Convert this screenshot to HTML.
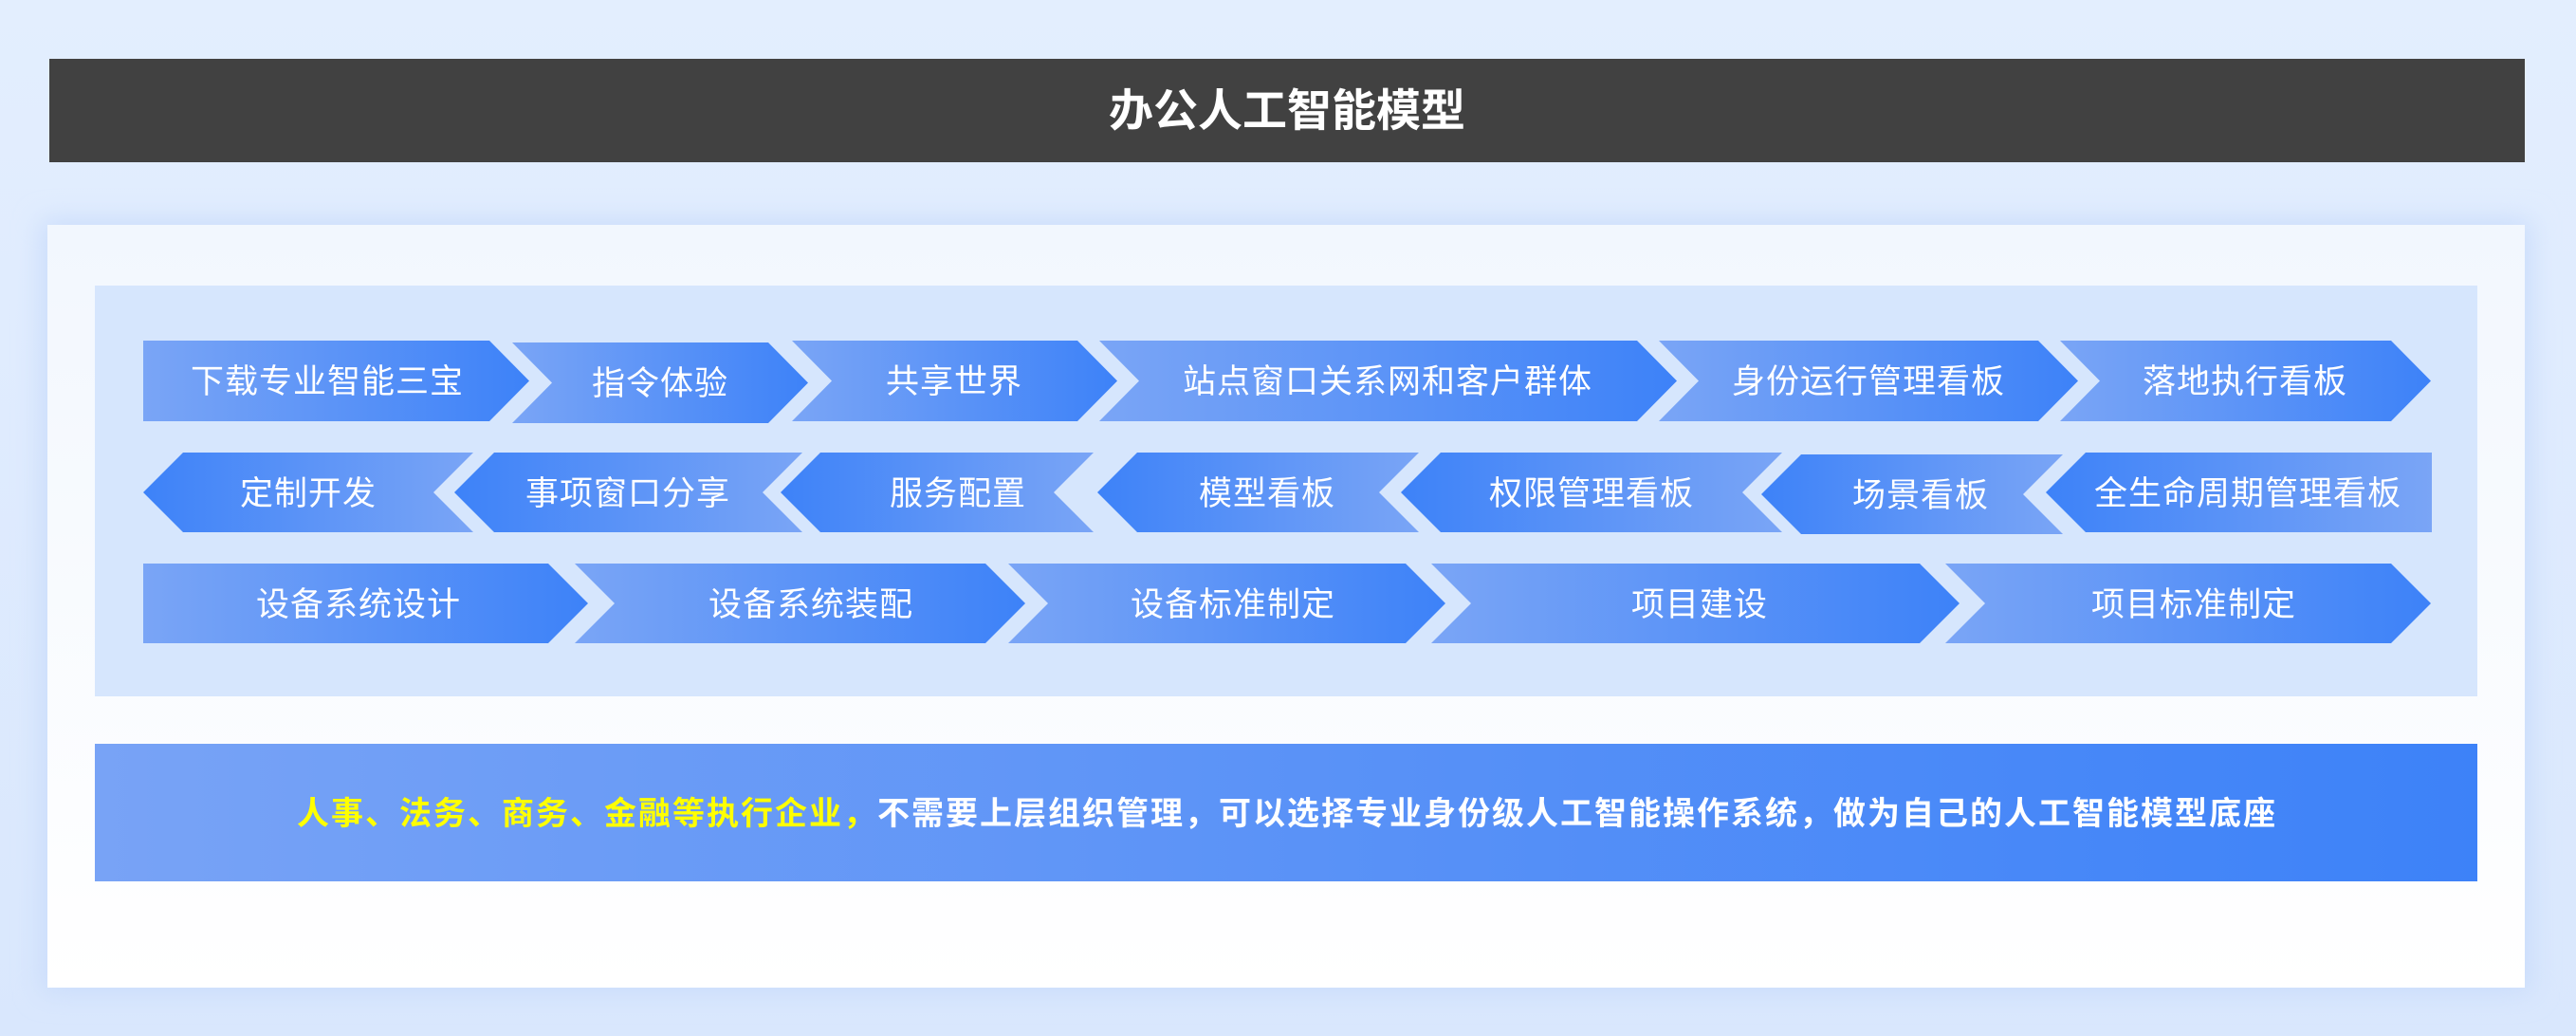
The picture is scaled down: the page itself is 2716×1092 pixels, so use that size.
<!DOCTYPE html>
<html><head><meta charset="utf-8"><style>
html,body{margin:0;padding:0;}
body{width:2716px;height:1092px;overflow:hidden;background:linear-gradient(180deg,#e3eefe 0%,#d9e7fd 100%);font-family:"Liberation Sans","Noto Sans CJK SC",sans-serif;}
svg{display:block}
</style></head><body>
<svg width="2716" height="1092" viewBox="0 0 2716 1092" xmlns="http://www.w3.org/2000/svg" font-family="'Liberation Sans','Noto Sans CJK SC',sans-serif">
<defs>
<linearGradient id="gr" x1="0" y1="0" x2="1" y2="0"><stop offset="0" stop-color="#7aa5f6"/><stop offset="1" stop-color="#3d82f8"/></linearGradient>
<linearGradient id="gl" x1="0" y1="0" x2="1" y2="0"><stop offset="0" stop-color="#3d82f8"/><stop offset="1" stop-color="#7aa5f6"/></linearGradient>
<linearGradient id="gb" x1="0" y1="0" x2="1" y2="0"><stop offset="0" stop-color="#78a3f6"/><stop offset="1" stop-color="#3d82f8"/></linearGradient>
<linearGradient id="gp" x1="0" y1="0" x2="0" y2="1"><stop offset="0" stop-color="#f2f7fe"/><stop offset="1" stop-color="#ffffff"/></linearGradient>
<filter id="sh" x="-5%" y="-10%" width="110%" height="120%"><feGaussianBlur stdDeviation="14"/></filter>
</defs>
<rect x="52" y="62" width="2610" height="109" fill="#414141"/>
<text x="1357" y="133" fill="#fff" font-size="47" font-weight="bold" text-anchor="middle">办公人工智能模型</text>
<rect x="44" y="232" width="2624" height="814" fill="#c9dcfb" filter="url(#sh)"/>
<rect x="50" y="237" width="2612" height="804" fill="url(#gp)"/>
<rect x="100" y="301" width="2512" height="433" fill="#d6e6fd"/>
<g fill="url(#gr)">
<polygon points="151,359 516,359 558,401.5 516,444 151,444"/>
<polygon points="540,361 810,361 852,403.5 810,446 540,446 582,403.5"/>
<polygon points="835,359 1136,359 1178,401.5 1136,444 835,444 877,401.5"/>
<polygon points="1159,359 1726,359 1768,401.5 1726,444 1159,444 1201,401.5"/>
<polygon points="1749,359 2149,359 2191,401.5 2149,444 1749,444 1791,401.5"/>
<polygon points="2172,359 2521,359 2563,401.5 2521,444 2172,444 2214,401.5"/>
</g>
<g fill="url(#gl)">
<polygon points="193,477 499,477 457,519 499,561 193,561 151,519"/>
<polygon points="521,477 846,477 804,519 846,561 521,561 479,519"/>
<polygon points="865,477 1153,477 1111,519 1153,561 865,561 823,519"/>
<polygon points="1199,477 1496,477 1454,519 1496,561 1199,561 1157,519"/>
<polygon points="1519,477 1879,477 1837,519 1879,561 1519,561 1477,519"/>
<polygon points="1899,479 2175,479 2133,521 2175,563 1899,563 1857,521"/>
<polygon points="2199,477 2564,477 2564,561 2199,561 2157,519"/>
</g>
<g fill="url(#gr)">
<polygon points="151,594 578,594 620,636 578,678 151,678"/>
<polygon points="606,594 1039,594 1081,636 1039,678 606,678 648,636"/>
<polygon points="1063,594 1482,594 1524,636 1482,678 1063,678 1105,636"/>
<polygon points="1509,594 2024,594 2066,636 2024,678 1509,678 1551,636"/>
<polygon points="2051,594 2521,594 2563,636 2521,678 2051,678 2093,636"/>
</g>
<g fill="#fff" font-size="35" text-anchor="middle" letter-spacing="1">
<text x="345" y="414">下载专业智能三宝</text>
<text x="696" y="416">指令体验</text>
<text x="1006" y="414">共享世界</text>
<text x="1463" y="414">站点窗口关系网和客户群体</text>
<text x="1970" y="414">身份运行管理看板</text>
<text x="2367" y="414">落地执行看板</text>
<text x="325" y="532">定制开发</text>
<text x="662" y="532">事项窗口分享</text>
<text x="1010" y="532">服务配置</text>
<text x="1336" y="532">模型看板</text>
<text x="1678" y="532">权限管理看板</text>
<text x="2025" y="534">场景看板</text>
<text x="2370" y="532">全生命周期管理看板</text>
<text x="378" y="649">设备系统设计</text>
<text x="855" y="649">设备系统装配</text>
<text x="1300" y="649">设备标准制定</text>
<text x="1792" y="649">项目建设</text>
<text x="2313" y="649">项目标准制定</text>
</g>
<rect x="100" y="784" width="2512" height="145" fill="url(#gb)"/>
<text x="1357" y="869" font-size="34" font-weight="bold" text-anchor="middle" letter-spacing="2" fill="#fff"><tspan fill="#ffff00">人事、法务、商务、金融等执行企业，</tspan>不需要上层组织管理，可以选择专业身份级人工智能操作系统，做为自己的人工智能模型底座</text>
</svg>
</body></html>
